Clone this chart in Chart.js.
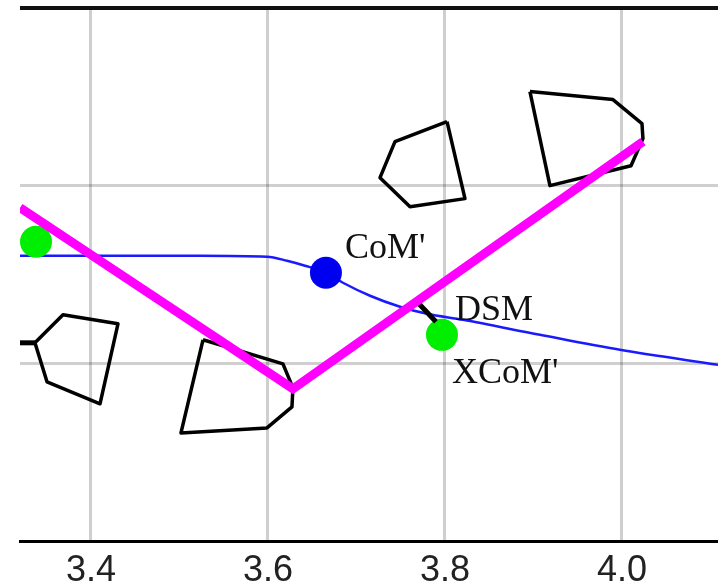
<!DOCTYPE html>
<html>
<head>
<meta charset="utf-8">
<script src="https://cdn.jsdelivr.net/npm/chart.js@4/dist/chart.umd.min.js"></script>
<style>
  html, body { margin: 0; padding: 0; background: #fff; }
  #wrap { width: 718px; height: 584px; }
</style>
</head>
<body>
<div id="wrap"><canvas id="c" width="718" height="584"></canvas></div>
<script>
// ---- data (x in same units as tick labels, y in same units) ----
const xTicks = [3.4, 3.6, 3.8, 4.0];
const yTicks = [0.0, 0.2, 0.4, 0.6];

// CoM trajectory (blue)
const comX = [3.3198, 3.4102, 3.5232, 3.5989, 3.6215, 3.6418, 3.6655, 3.6847, 3.7153, 3.7492, 3.7797, 3.8203, 3.9073, 3.9977, 4.1085];
const comY = [0.3211, 0.3211, 0.3211, 0.3200, 0.3155, 0.3099, 0.3020, 0.2907, 0.2761, 0.2637, 0.2558, 0.2490, 0.2321, 0.2152, 0.1983];

// magenta path
const pathX = [3.3198, 3.6282, 4.0237];
const pathY = [0.3752, 0.1713, 0.4496];

// markers
const comPointX = [3.6655];
const comPointY = [0.3020];
const xcomPointX = [3.3379, 3.7966];
const xcomPointY = [0.3369, 0.2321];

// DSM segment
const dsmX = [3.7695, 3.7898];
const dsmY = [0.2682, 0.2468];

// foot outlines
const footAX = [3.3367, 3.3684, 3.4305, 3.4102, 3.3503, 3.3367];
const footAY = [0.2231, 0.2546, 0.2445, 0.1544, 0.1792, 0.2231];
const stubX = [3.3028, 3.3367];
const stubY = [0.2231, 0.2231];
const footBX = [3.5266, 3.6169, 3.6282, 3.6271, 3.5989, 3.5017, 3.5266];
const footBY = [0.2265, 0.1994, 0.1724, 0.1510, 0.1273, 0.1217, 0.2265];
const footCX = [3.8023, 3.7435, 3.7266, 3.7605, 3.8226, 3.8023];
const footCY = [0.4721, 0.4496, 0.4090, 0.3763, 0.3854, 0.4721];
const footDX = [3.8960, 3.9898, 4.0226, 4.0237, 4.0102, 3.9186, 3.8960];
const footDY = [0.5059, 0.4969, 0.4699, 0.4530, 0.4225, 0.4000, 0.5059];

// text labels
const labelText = ["CoM'", "DSM", "XCoM'"];
const labelX = [3.687, 3.8113, 3.8079];
const labelY = [0.3189, 0.2490, 0.1780];

const pts = (xs, ys) => xs.map((x, i) => ({ x: x, y: ys[i] }));

function lineDs(xs, ys, color, width, order, extra) {
  return Object.assign({
    data: pts(xs, ys),
    showLine: true,
    borderColor: color,
    borderWidth: width,
    pointRadius: 0,
    fill: false,
    tension: 0,
    clip: 0,
    order: order
  }, extra || {});
}

const labelPlugin = {
  id: 'labels',
  afterDatasetsDraw(chart) {
    const ctx = chart.ctx;
    const xs = chart.scales.x, ys = chart.scales.y;
    ctx.save();
    ctx.fillStyle = '#111';
    ctx.font = '36px "Liberation Serif", "Times New Roman", serif';
    ctx.textAlign = 'left';
    ctx.textBaseline = 'alphabetic';
    labelText.forEach((t, i) => {
      ctx.fillText(t, xs.getPixelForValue(labelX[i]), ys.getPixelForValue(labelY[i]));
    });
    // top frame line
    const a = chart.chartArea;
    ctx.strokeStyle = '#111';
    ctx.lineWidth = 4;
    ctx.beginPath();
    ctx.moveTo(a.left, a.top);
    ctx.lineTo(a.right, a.top);
    ctx.stroke();
    ctx.restore();
  }
};

const noPad = (s) => { s.paddingTop = 0; s.paddingBottom = 0; s.paddingLeft = 0; s.paddingRight = 0; };

new Chart(document.getElementById('c'), {
  type: 'scatter',
  data: {
    datasets: [
      lineDs(pathX, pathY, '#ff00ff', 9, 1, { borderJoinStyle: 'miter', borderCapStyle: 'butt' }),
      lineDs(dsmX, dsmY, '#000000', 5, 2),
      {
        data: pts(comPointX, comPointY),
        pointRadius: 16, pointBackgroundColor: '#0000f0', pointBorderWidth: 0,
        showLine: false, clip: 0, order: 3
      },
      {
        data: pts(xcomPointX, xcomPointY),
        pointRadius: 16, pointBackgroundColor: '#00ee00', pointBorderWidth: 0,
        showLine: false, clip: 0, order: 3
      },
      lineDs(comX, comY, '#1a1aff', 2.5, 4, { cubicInterpolationMode: 'monotone' }),
      lineDs(footAX, footAY, '#000000', 3.5, 5, { borderJoinStyle: 'round' }),
      lineDs(stubX, stubY, '#000000', 5, 5),
      lineDs(footBX, footBY, '#000000', 3.5, 5, { borderJoinStyle: 'round' }),
      lineDs(footCX, footCY, '#000000', 3.5, 5, { borderJoinStyle: 'round' }),
      lineDs(footDX, footDY, '#000000', 3.5, 5, { borderJoinStyle: 'round' })
    ]
  },
  options: {
    responsive: false,
    animation: false,
    events: [],
    layout: { autoPadding: false, padding: { left: 20, top: 8, right: 0, bottom: 0 } },
    plugins: { legend: { display: false }, tooltip: { enabled: false } },
    scales: {
      x: {
        type: 'linear',
        min: 3.3198,
        max: 4.1085,
        afterBuildTicks: (s) => { s.ticks = xTicks.map(v => ({ value: v })); },
        afterFit: (s) => { s.height = 43; noPad(s); },
        grid: { color: 'rgba(0,0,0,0.19)', lineWidth: 3, drawTicks: false },
        border: { display: true, color: '#000', width: 3 },
        ticks: {
          padding: 8,
          color: '#222',
          font: { family: '"Liberation Sans", Arial, sans-serif', size: 36 },
          callback: (v) => Number(v).toFixed(1),
          maxRotation: 0
        }
      },
      y: {
        type: 'linear',
        min: 0,
        max: 0.6,
        afterBuildTicks: (s) => { s.ticks = yTicks.map(v => ({ value: v })); },
        afterFit: (s) => { s.width = 0; noPad(s); },
        grid: { color: 'rgba(0,0,0,0.19)', lineWidth: 3, drawTicks: false },
        border: { display: false },
        ticks: { display: false }
      }
    }
  },
  plugins: [labelPlugin]
});
</script>
</body>
</html>
